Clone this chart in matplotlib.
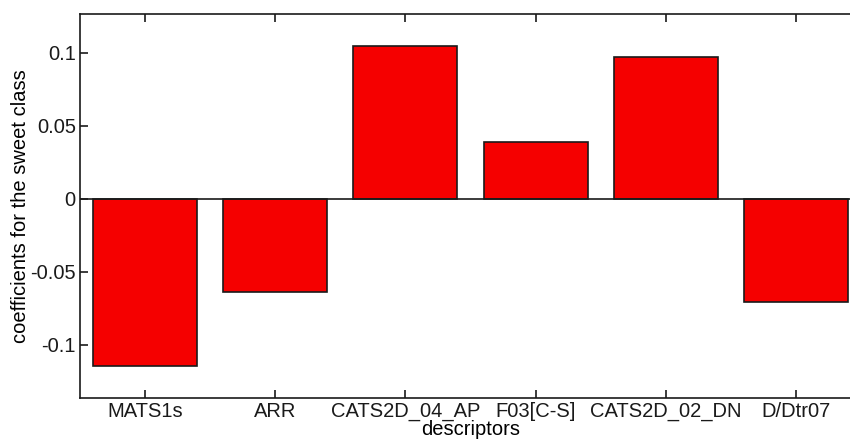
import matplotlib
matplotlib.use("Agg")
import matplotlib.pyplot as plt
import numpy as np

plt.rcParams['font.family'] = ['Liberation Sans', 'DejaVu Sans']

descriptors = ["MATS1s", "ARR", "CATS2D_04_AP", "F03[C-S]", "CATS2D_02_DN", "D/Dtr07"]
coefficients = [-0.1144, -0.0639, 0.1048, 0.0388, 0.0975, -0.0703]
yticks = [-0.1, -0.05, 0, 0.05, 0.1]
yticklabels = ["-0.1", "-0.05", "0", "0.05", "0.1"]

W, H = 850, 440
fig = plt.figure(figsize=(W/100, H/100), dpi=100)
left, right, top, bottom = 80, 861, 14, 398
ax = fig.add_axes([left/W, 1 - bottom/H, (right-left)/W, (bottom-top)/H])

x = np.arange(1, len(descriptors) + 1)
ax.bar(x, coefficients, width=0.8, color='#f50000', edgecolor='#1a1a1a', linewidth=1.2, zorder=2)
ax.axhline(0, color='#1a1a1a', linewidth=1.2, zorder=3)

fs = 14.5
ax.set_xlim(0.5, len(descriptors) + 0.5)
ax.set_ylim(-0.1363, 0.1267)
ax.set_xticks(x)
ax.set_xticklabels(descriptors, fontsize=fs)
ax.set_yticks(yticks)
ax.set_yticklabels(yticklabels, fontsize=fs)
ax.tick_params(direction='in', length=6, width=1.2, top=True, right=True, pad=3, colors='#1a1a1a')
for sp in ax.spines.values():
    sp.set_linewidth(1.2)
    sp.set_color('#1a1a1a')

ax.set_xlabel("descriptors", fontsize=fs, labelpad=-0.5)
ax.set_ylabel("coefficients for the sweet class", fontsize=fs, labelpad=0.5)

fig.savefig("out.png", dpi=100)
